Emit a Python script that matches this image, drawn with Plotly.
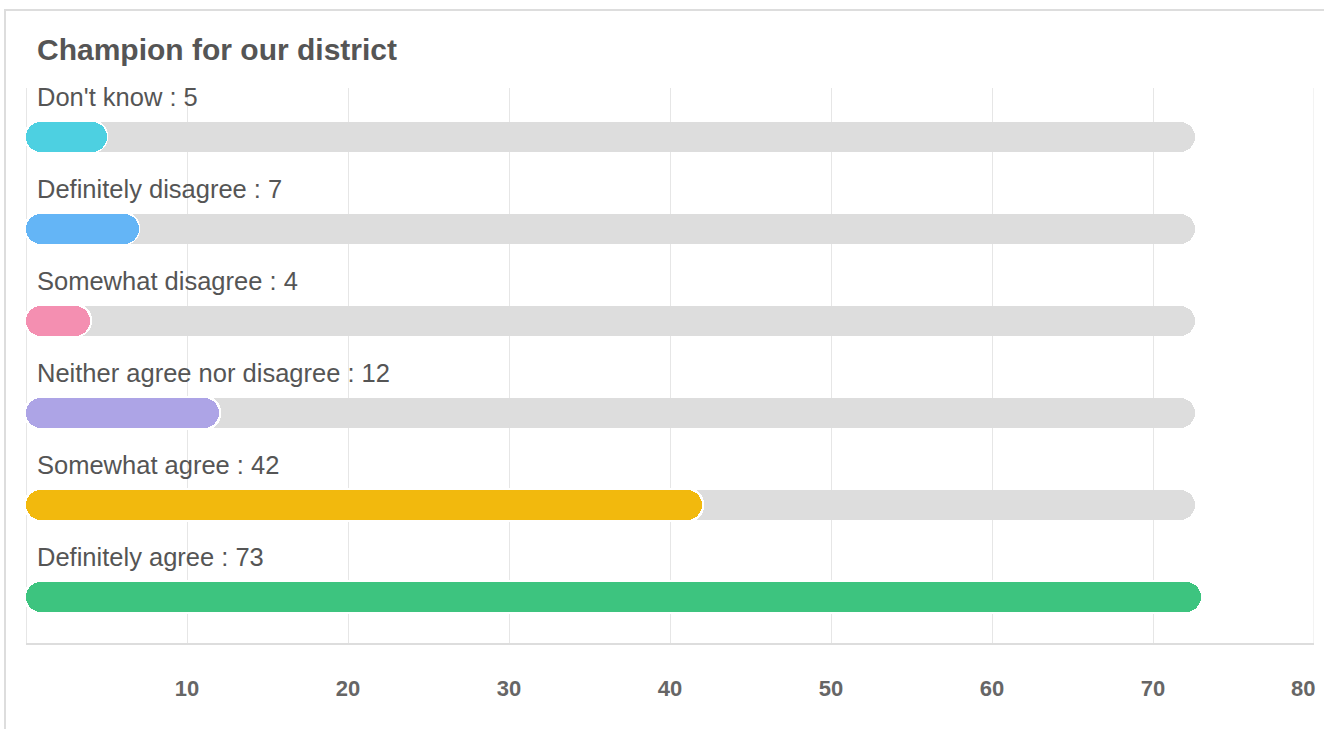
import plotly.graph_objects as go

categories = ["Don't know", "Definitely disagree", "Somewhat disagree",
              "Neither agree nor disagree", "Somewhat agree", "Definitely agree"]
values = [5, 7, 4, 12, 42, 73]
colors = ["#4DD0E1", "#64B5F6", "#F48FB1", "#ADA4E6", "#F2B90D", "#3DC47F"]
tick_values = [10, 20, 30, 40, 50, 60, 70, 80]
tick_labels = ["10", "20", "30", "40", "50", "60", "70", "80"]
title_text = "Champion for our district"

W, H = 1324, 729
ML, MR, MT, MB = 26, 10, 88, 86
X_MAX = 80
plot_w = W - ML - MR
plot_h = H - MT - MB
px_per_unit = plot_w / X_MAX
Y_RANGE = [5.5, -0.53]
px_per_y = plot_h / abs(Y_RANGE[0] - Y_RANGE[1])

BAR_PX = 30
RADIUS = 15
OUTLINE_PX = 1.6
TRACK_INSET_PX = 6
bar_w = BAR_PX / px_per_y
track = max(values) - TRACK_INSET_PX / px_per_unit
ys = list(range(len(categories)))
n = len(ys)
FONT = "Liberation Sans, Arial, Helvetica, sans-serif"

fig = go.Figure()

# gray track
fig.add_trace(go.Bar(
    y=ys, x=[track] * n, base=[0] * n, orientation="h", width=bar_w,
    marker=dict(color="#DDDDDD", cornerradius=RADIUS, line=dict(width=0)),
    hoverinfo="skip", showlegend=False))
# white outline behind coloured bars
pad = OUTLINE_PX / px_per_unit
fig.add_trace(go.Bar(
    y=ys, x=[v + 2 * pad for v in values], base=[-pad] * n, orientation="h",
    width=bar_w + 2 * OUTLINE_PX / px_per_y,
    marker=dict(color="#FFFFFF", cornerradius=RADIUS + OUTLINE_PX, line=dict(width=0)),
    hoverinfo="skip", showlegend=False))
# coloured value bars
fig.add_trace(go.Bar(
    y=ys, x=values, base=[0] * n, orientation="h", width=bar_w,
    marker=dict(color=colors, cornerradius=RADIUS, line=dict(width=0)),
    hoverinfo="skip", showlegend=False))

for i, (c, v) in enumerate(zip(categories, values)):
    fig.add_annotation(
        x=0, y=i, xref="x", yref="y", text=f"{c} : {v}", showarrow=False,
        xanchor="left", yanchor="middle", xshift=9, yshift=40,
        font=dict(family=FONT, size=25.5, color="#555555"))

# last tick label kept inside the figure, right-aligned to the plot edge
fig.add_annotation(
    x=tick_values[-1], y=0, xref="x", yref="paper", text=tick_labels[-1],
    showarrow=False, xanchor="right", yanchor="middle", xshift=3, yshift=-45,
    font=dict(family=FONT, size=22, color="#666666", weight="bold"))

# card border
fig.add_shape(type="rect", xref="paper", yref="paper",
              x0=(5 - ML) / plot_w, x1=(W + 20 - ML) / plot_w,
              y0=-(MB + 20) / plot_h, y1=1 + (MT - 10) / plot_h,
              line=dict(color="#DDDDDD", width=2), fillcolor="rgba(0,0,0,0)", layer="below")

fig.update_layout(
    width=W, height=H, margin=dict(l=ML, r=MR, t=MT, b=MB),
    barmode="overlay", bargap=0,
    plot_bgcolor="#FFFFFF", paper_bgcolor="#FFFFFF",
    title=dict(text=title_text, xref="container", yref="container",
               x=37 / W, xanchor="left", y=1 - 49 / H, yanchor="middle",
               font=dict(family=FONT, size=30, color="#555555", weight="bold")),
    xaxis=dict(range=[0, X_MAX], tickvals=tick_values[:-1], ticktext=tick_labels[:-1],
               showgrid=True, gridcolor="#E6E6E6", gridwidth=1,
               zeroline=True, zerolinecolor="#E6E6E6", zerolinewidth=1,
               showline=True, linecolor="#DDDDDD", linewidth=2, mirror=False,
               ticks="", ticklabelstandoff=25,
               tickfont=dict(family=FONT, size=22, color="#666666", weight="bold"),
               fixedrange=True),
    yaxis=dict(range=Y_RANGE, visible=False, fixedrange=True),
)
# right-most gridline at 80 (the plot's right edge)
fig.add_shape(type="line", xref="x", yref="paper", x0=X_MAX, x1=X_MAX, y0=0, y1=1,
              line=dict(color="#E6E6E6", width=1), layer="below")

fig.write_html("out.html", config={"displayModeBar": False},
               post_script="document.body.style.margin='0';")
